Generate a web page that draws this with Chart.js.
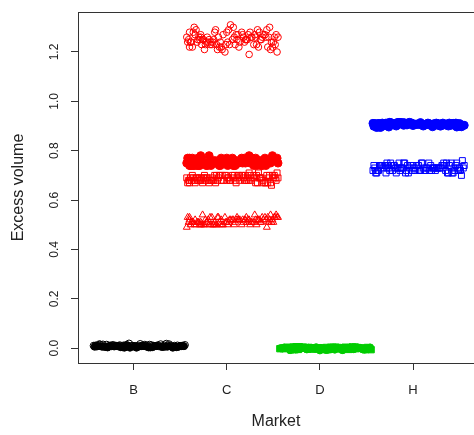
<!DOCTYPE html>
<html>
<head>
<meta charset="utf-8">
<script src="https://cdn.jsdelivr.net/npm/chart.js@4"></script>
<style>
  body { margin: 0; background: #fff; }
  canvas { display: block; }
</style>
</head>
<body>
<canvas id="chart" width="474" height="435"></canvas>
<script>
// market categories and axis ticks
const categories = ['B', 'C', 'D', 'H'];
const yTicks = [0, 0.2, 0.4, 0.6, 0.8, 1.0, 1.2];

// horizontal jitter of the points around each market
const jitterA = [-0.41, 0.12, -0.27, 0.38, 0.02, -0.15, 0.49, -0.36, 0.21, -0.05, 0.31, -0.22, 0.53, -0.11, 0.07, -0.31,
    0.44, 0.17, -0.39, 0.26, -0.02, 0.35, -0.19, 0.09, 0.51, -0.33, 0.14, -0.08, 0.41, -0.25, 0.04, 0.29,
    -0.43, 0.19, -0.13, 0.47, -0.29, 0.23, -0.01, 0.55, -0.17, 0.33, -0.37, 0.11, 0.39, -0.07, 0.27, -0.23];
const jitterB = [0.45, -0.20, 0.16, -0.40, 0.36, -0.04, 0.24, -0.30, 0.52, -0.12, 0.06, -0.38, 0.30, -0.24, 0.42, 0.00,
    -0.16, 0.20, -0.35, 0.48, -0.09, 0.13, -0.28, 0.37, -0.42, 0.25, 0.03, -0.21, 0.54, -0.14, 0.10, -0.32,
    0.43, -0.06, 0.18, -0.26, 0.32, -0.40, 0.50, -0.10, 0.08, -0.34, 0.22, -0.18, 0.46, 0.01, -0.28, 0.34];

// market B (black)
const bValues1 = [0.011, 0.014, 0.008, 0.016, 0.009, 0.012, 0.007, 0.015, 0.010, 0.019, 0.008, 0.013, 0.009, 0.011, 0.017, 0.007,
    0.010, 0.014, 0.008, 0.012, 0.009, 0.018, 0.010, 0.011, 0.008, 0.015, 0.010, 0.013, 0.007, 0.011, 0.009, 0.016,
    0.010, 0.012, 0.008, 0.011, 0.014, 0.009, 0.010, 0.013, 0.008, 0.011, 0.016, 0.009, 0.010, 0.012, 0.008, 0.011];
const bValues2 = [0.005, 0.008, 0.003, 0.009, 0.006, 0.002, 0.008, 0.005, 0.010, 0.004, 0.007, 0.009, 0.005, 0.008, 0.002, 0.007,
    0.009, 0.004, 0.008, 0.006, 0.010, 0.007, 0.003, 0.008, 0.006, 0.009, 0.002, 0.007, 0.008, 0.004, 0.009, 0.006,
    0.007, 0.010, 0.003, 0.008, 0.005, 0.007, 0.009, 0.002, 0.008, 0.006, 0.007, 0.009, 0.004, 0.008, 0.005, 0.007];

// market C (red)
const cCircle1 = [1.25, 1.27, 1.23, 1.26, 1.29, 1.24, 1.22, 1.28, 1.25, 1.21, 1.26, 1.24, 1.27, 1.23, 1.30, 1.25,
    1.22, 1.27, 1.24, 1.26, 1.20, 1.28, 1.25, 1.23, 1.26, 1.29, 1.24, 1.22, 1.27, 1.25, 1.31, 1.23,
    1.26, 1.24, 1.28, 1.21, 1.25, 1.27, 1.23, 1.26, 1.24, 1.29, 1.22, 1.25, 1.27, 1.24, 1.26, 1.23];
const cCircle2 = [1.26, 1.24, 1.28, 1.22, 1.25, 1.27, 1.19, 1.26, 1.23, 1.29, 1.25, 1.24, 1.27, 1.21, 1.26, 1.28,
    1.23, 1.25, 1.30, 1.24, 1.26, 1.22, 1.27, 1.25, 1.24, 1.28, 1.23, 1.26, 1.20, 1.25, 1.27, 1.24,
    1.29, 1.22, 1.26, 1.25, 1.23, 1.28, 1.24, 1.21, 1.26, 1.27, 1.25, 1.23, 1.30, 1.24, 1.26, 1.22];
const cFilled = [0.76, 0.75, 0.77, 0.74, 0.76, 0.75, 0.78, 0.74, 0.76, 0.75, 0.77, 0.74, 0.76, 0.75, 0.74, 0.77,
    0.76, 0.75, 0.74, 0.77, 0.76, 0.75, 0.78, 0.74, 0.77, 0.75, 0.76, 0.74, 0.77, 0.75, 0.76, 0.74,
    0.75, 0.77, 0.76, 0.75, 0.74, 0.77, 0.76, 0.75, 0.74, 0.76, 0.77, 0.75, 0.76, 0.74, 0.77, 0.75];
const cSquare1 = [0.69, 0.68, 0.70, 0.67, 0.69, 0.68, 0.71, 0.68, 0.69, 0.67, 0.70, 0.68, 0.69, 0.70, 0.67, 0.68,
    0.69, 0.70, 0.68, 0.66, 0.69, 0.70, 0.68, 0.69, 0.67, 0.70, 0.68, 0.69, 0.71, 0.68, 0.67, 0.69,
    0.70, 0.68, 0.69, 0.67, 0.70, 0.68, 0.69, 0.68, 0.70, 0.67, 0.69, 0.68, 0.70, 0.69, 0.68, 0.71];
const cSquare2 = [0.68, 0.70, 0.69, 0.67, 0.69, 0.68, 0.70, 0.69, 0.68, 0.70, 0.67, 0.69, 0.68, 0.70, 0.69, 0.68,
    0.67, 0.70, 0.69, 0.68, 0.70, 0.69, 0.67, 0.68, 0.70, 0.69, 0.68, 0.70, 0.67, 0.69, 0.68, 0.70,
    0.69, 0.68, 0.70, 0.67, 0.69, 0.68, 0.70, 0.69, 0.68, 0.67, 0.70, 0.69, 0.68, 0.70, 0.69, 0.68];
const cTriangle = [0.51, 0.52, 0.50, 0.53, 0.51, 0.50, 0.52, 0.51, 0.53, 0.50, 0.52, 0.51, 0.54, 0.50, 0.52, 0.51,
    0.53, 0.52, 0.50, 0.51, 0.53, 0.52, 0.50, 0.51, 0.53, 0.50, 0.52, 0.51, 0.53, 0.50, 0.52, 0.51,
    0.49, 0.52, 0.51, 0.54, 0.50, 0.52, 0.51, 0.53, 0.50, 0.52, 0.51, 0.53, 0.52, 0.50, 0.51, 0.52];

// market D (green)
const dValues1 = [0.000, 0.003, -0.004, 0.005, -0.002, 0.001, -0.006, 0.004, -0.001, 0.002, -0.005, 0.006, 0.000, -0.003, 0.003, -0.007,
    0.001, 0.004, -0.002, 0.002, -0.004, 0.005, 0.000, -0.006, 0.003, -0.001, 0.004, -0.003, 0.001, 0.006, -0.005, 0.002,
    -0.002, 0.003, -0.004, 0.000, 0.005, -0.001, 0.002, -0.006, 0.004, -0.003, 0.001, 0.003, -0.002, 0.000, 0.004, -0.005];
const dValues2 = [-0.002, 0.002, -0.006, 0.001, -0.004, 0.004, -0.008, 0.000, -0.003, 0.003, -0.007, 0.002, -0.001, -0.005, 0.001, -0.009,
    0.003, -0.002, 0.000, -0.006, 0.002, -0.004, 0.004, -0.003, 0.000, -0.007, 0.001, -0.002, 0.003, -0.005, 0.000, -0.008,
    0.002, -0.003, 0.001, -0.006, 0.004, -0.001, -0.004, 0.002, -0.007, 0.000, -0.002, 0.003, -0.005, 0.001, -0.003, 0.000];

// market H (blue)
const hFilled = [0.910, 0.905, 0.912, 0.900, 0.908, 0.915, 0.903, 0.910, 0.897, 0.912, 0.906, 0.910, 0.900, 0.914, 0.908, 0.902,
    0.911, 0.905, 0.894, 0.909, 0.913, 0.904, 0.910, 0.907, 0.899, 0.912, 0.906, 0.910, 0.903, 0.915, 0.908, 0.900,
    0.911, 0.905, 0.909, 0.896, 0.912, 0.907, 0.910, 0.903, 0.914, 0.906, 0.909, 0.900, 0.912, 0.905, 0.910, 0.908];
const hSquare1 = [0.73, 0.72, 0.74, 0.71, 0.73, 0.75, 0.72, 0.74, 0.73, 0.71, 0.74, 0.72, 0.76, 0.73, 0.72, 0.74,
    0.73, 0.75, 0.71, 0.73, 0.74, 0.72, 0.73, 0.75, 0.72, 0.74, 0.73, 0.71, 0.75, 0.72, 0.74, 0.73,
    0.72, 0.74, 0.73, 0.75, 0.71, 0.73, 0.72, 0.74, 0.73, 0.75, 0.72, 0.73, 0.74, 0.72, 0.73, 0.74];
const hSquare2 = [0.72, 0.74, 0.73, 0.71, 0.75, 0.73, 0.72, 0.74, 0.70, 0.73, 0.74, 0.72, 0.73, 0.75, 0.71, 0.74,
    0.73, 0.72, 0.74, 0.73, 0.75, 0.72, 0.73, 0.71, 0.74, 0.73, 0.72, 0.74, 0.73, 0.72, 0.75, 0.73,
    0.71, 0.74, 0.72, 0.73, 0.74, 0.72, 0.73, 0.75, 0.72, 0.74, 0.73, 0.71, 0.74, 0.73, 0.75, 0.74];

function points(market, offsets, values) {
    const pos = categories.indexOf(market) + 1;
    return values.map((v, i) => ({ x: pos + offsets[i], y: v }));
}

function series(data, color, style, filled, radius) {
    return {
        data: data,
        pointStyle: style,
        pointRadius: radius,
        pointHoverRadius: radius,
        pointBorderWidth: 1,
        borderColor: color,
        backgroundColor: filled ? color : 'rgba(0,0,0,0)',
        showLine: false
    };
}

const RED = '#ff0000', BLACK = '#000000', GREEN = '#00cd00', BLUE = '#0000ff';

const datasets = [
    series(points('B', jitterA, bValues1), BLACK, 'circle', false, 3.5),
    series(points('B', jitterB, bValues2), BLACK, 'circle', true, 3.5),
    series(points('C', jitterA, cCircle1), RED, 'circle', false, 3.3),
    series(points('C', jitterB, cCircle2), RED, 'circle', false, 3.3),
    series(points('C', jitterB, cFilled), RED, 'circle', true, 4),
    series(points('C', jitterA, cFilled), RED, 'circle', true, 4),
    series(points('C', jitterB, cSquare1), RED, 'rect', false, 4.2),
    series(points('C', jitterA, cSquare2), RED, 'rect', false, 4.2),
    series(points('C', jitterA, cTriangle), RED, 'triangle', false, 4),
    series(points('C', jitterB, cTriangle), RED, 'triangle', false, 4),
    series(points('D', jitterA, dValues1), GREEN, 'rect', true, 4.5),
    series(points('D', jitterB, dValues2), GREEN, 'circle', true, 3.5),
    series(points('H', jitterB, hFilled), BLUE, 'circle', true, 4),
    series(points('H', jitterA, hFilled), BLUE, 'circle', true, 4),
    series(points('H', jitterA, hSquare1), BLUE, 'rect', false, 4.2),
    series(points('H', jitterB, hSquare2), BLUE, 'rect', false, 4.2)
];

// R-style box (right side falls off the canvas) plus rotated y tick labels
const framePlugin = {
    id: 'frame',
    afterDraw(chart) {
        const { ctx, chartArea } = chart;
        const y = chart.scales.y;
        ctx.save();
        ctx.strokeStyle = '#333';
        ctx.lineWidth = 1;
        ctx.strokeRect(Math.round(chartArea.left) + 0.5, Math.round(chartArea.top) + 0.5,
            chartArea.right - chartArea.left + 20, Math.round(chartArea.bottom - chartArea.top));
        ctx.fillStyle = '#222';
        ctx.font = '12px "Liberation Sans", Arial, sans-serif';
        ctx.textAlign = 'center';
        ctx.textBaseline = 'middle';
        yTicks.forEach(v => {
            ctx.save();
            ctx.translate(55, y.getPixelForValue(v));
            ctx.rotate(-Math.PI / 2);
            ctx.fillText(v.toFixed(1), 0, 0);
            ctx.restore();
        });
        ctx.restore();
    }
};

new Chart(document.getElementById('chart'), {
    type: 'scatter',
    data: { datasets: datasets },
    plugins: [framePlugin],
    options: {
        responsive: false,
        animation: false,
        layout: { autoPadding: false, padding: { top: 12, right: 0, bottom: 0, left: 0 } },
        plugins: { legend: { display: false }, tooltip: { enabled: false } },
        scales: {
            x: {
                type: 'linear',
                min: 0.402,
                max: 4.655,
                afterBuildTicks: s => { s.ticks = categories.map((c, i) => ({ value: i + 1 })); },
                afterFit: s => { s.height = 72; s.paddingLeft = 0; s.paddingRight = 0; },
                ticks: {
                    autoSkip: false,
                    maxRotation: 0,
                    padding: 13,
                    color: '#222',
                    font: { family: '"Liberation Sans", Arial, sans-serif', size: 13 },
                    callback: v => categories[v - 1]
                },
                grid: { drawOnChartArea: false, tickLength: 7, color: '#333' },
                border: { display: false },
                title: {
                    display: true,
                    text: 'Market',
                    color: '#222',
                    font: { family: '"Liberation Sans", Arial, sans-serif', size: 16 },
                    padding: { top: 0, bottom: 4 }
                }
            },
            y: {
                min: -0.06,
                max: 1.362,
                afterBuildTicks: s => { s.ticks = yTicks.map(v => ({ value: v })); },
                afterFit: s => { s.width = 78; s.paddingTop = 0; s.paddingBottom = 0; },
                ticks: { display: false },
                grid: { drawOnChartArea: false, tickLength: 7, color: '#333' },
                border: { display: false },
                title: {
                    display: true,
                    text: 'Excess volume',
                    color: '#222',
                    font: { family: '"Liberation Sans", Arial, sans-serif', size: 16 },
                    padding: { top: 9, bottom: 0 }
                }
            }
        }
    }
});
</script>
</body>
</html>
